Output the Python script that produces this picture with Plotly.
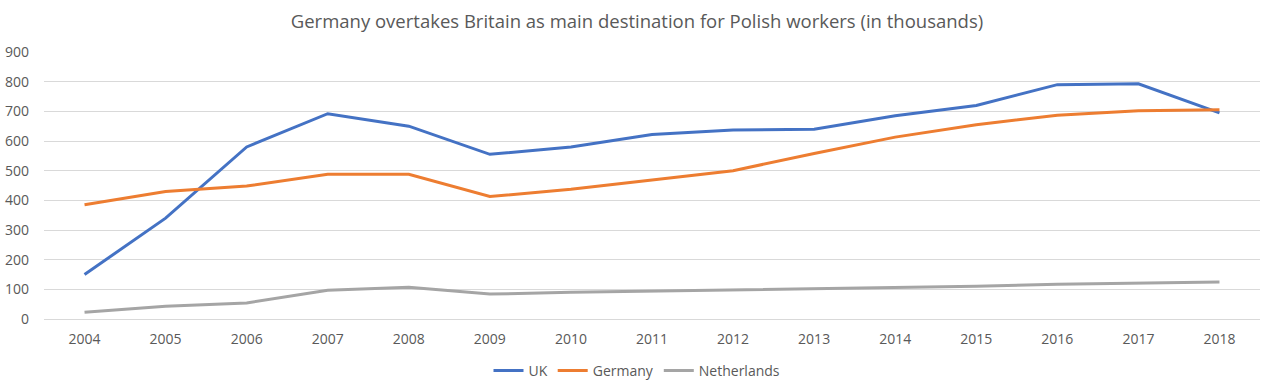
import plotly.graph_objects as go

years = ["2004", "2005", "2006", "2007", "2008", "2009", "2010", "2011",
         "2012", "2013", "2014", "2015", "2016", "2017", "2018"]
uk = [150, 340, 580, 692, 650, 555, 580, 622, 637, 640, 685, 720, 790, 793, 695]
germany = [385, 430, 448, 488, 488, 413, 437, 468, 500, 558, 613, 655, 687, 702, 705]
netherlands = [23, 43, 54, 97, 107, 84, 90, 94, 97, 103, 106, 110, 117, 121, 125]

series = [("UK", uk, "#4472C4"), ("Germany", germany, "#ED7D31"),
          ("Netherlands", netherlands, "#A5A5A5")]

fig = go.Figure()
for name, vals, col in series:
    fig.add_trace(go.Scatter(x=years, y=vals, name=name, mode="lines",
                             line=dict(color=col, width=3)))

fig.update_layout(
    width=1274, height=392,
    margin=dict(l=44, r=14, t=52, b=73, autoexpand=False),
    paper_bgcolor="white", plot_bgcolor="white",
    font=dict(family="Open Sans", color="#595959", size=14),
    title=dict(text="Germany overtakes Britain as main destination for Polish workers (in thousands)",
               x=0.5, xanchor="center", xref="container", y=1 - 22 / 392, yanchor="middle",
               font=dict(size=18.5, color="#595959")),
    legend=dict(orientation="h", x=0.5, xanchor="center", xref="container",
                y=1 - 371 / 392, yanchor="middle", yref="container",
                font=dict(size=14, color="#595959"), itemwidth=30),
    showlegend=True,
)
fig.update_xaxes(type="category", range=[-0.5, 14.5], showgrid=False, showline=False,
                 zeroline=False, ticks="", ticklabelstandoff=10)
fig.update_yaxes(range=[0, 900], dtick=100, showgrid=True, gridcolor="#D9D9D9",
                 gridwidth=1, zeroline=True, zerolinecolor="#D9D9D9", zerolinewidth=1,
                 showline=False, ticks="", ticklabelstandoff=14)

fig.write_html("out.html", config={"displayModeBar": False},
               post_script="document.body.style.margin='0';")
